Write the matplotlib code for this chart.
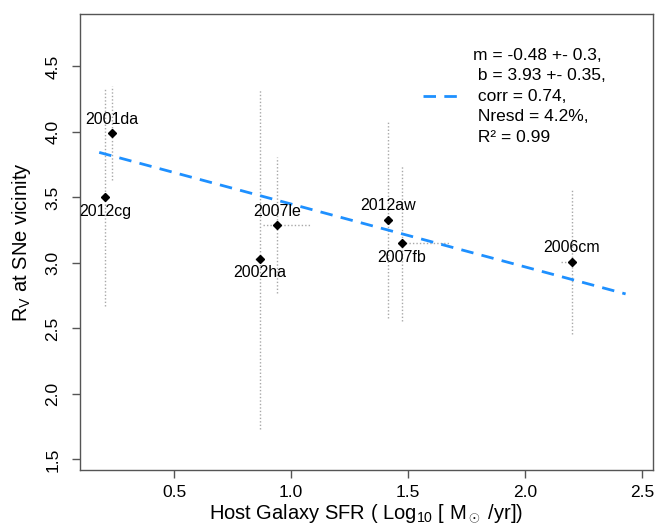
import numpy as np
import matplotlib
matplotlib.use("Agg")
import matplotlib.pyplot as plt

plt.rcParams['font.family'] = ['Liberation Sans', 'DejaVu Sans']
plt.rcParams['mathtext.fontset'] = 'custom'
plt.rcParams['mathtext.rm'] = 'Liberation Sans'
plt.rcParams['mathtext.it'] = 'Liberation Sans:italic'

# supernovae: host SFR (log10 Msun/yr) vs R_V
names = ['2012cg', '2001da', '2002ha', '2007le', '2012aw', '2007fb', '2006cm']
sfr = [0.205, 0.235, 0.868, 0.94, 1.415, 1.474, 2.20]
rv = [3.50, 3.99, 3.03, 3.29, 3.33, 3.15, 3.01]
rv_err = [0.83, 0.36, 1.30, 0.52, 0.75, 0.59, 0.55]
sfr_err_lo = [0.0, 0.0, 0.02, 0.06, 0.0, 0.0, 0.045]
sfr_err_hi = [0.0, 0.0, 0.0, 0.14, 0.0, 0.20, 0.02]
label_above = [False, True, False, True, True, False, True]

# linear fit
m, b = -0.48, 3.93
fit_range = [0.18, 2.43]
fit_text = "m = -0.48 +- 0.3,\n b = 3.93 +- 0.35,\n corr = 0.74,\n Nresd = 4.2%,\n R\u00b2 = 0.99"

fig = plt.figure(figsize=(6.57, 5.26), dpi=100)
ax = fig.add_axes([0.1218, 0.1065, 0.8721, 0.8669])

ax.errorbar(sfr, rv, yerr=rv_err, xerr=[sfr_err_lo, sfr_err_hi], fmt='none',
            ecolor='#a8a8a8', elinewidth=1, linestyle=':', capsize=0)
for line in ax.containers[0].lines[2]:
    line.set_linestyle((0, (1, 1.5)))
ax.plot(sfr, rv, 'D', color='black', markersize=4.5, zorder=5)

xf = np.array(fit_range)
ax.plot(xf, b + m * xf, color='#1E90FF', lw=2, dashes=(4.5, 3))

for n, x, y, up in zip(names, sfr, rv, label_above):
    ax.annotate(n, (x, y), xytext=(0, 10 if up else -10), textcoords='offset points',
                ha='center', va='center', fontsize=11.5)

# legend
ax.plot([0.599, 0.66], [0.82, 0.82], transform=ax.transAxes, color='#1E90FF',
        lw=2, dashes=(4.5, 3))
ax.text(0.686, 0.82, fit_text, transform=ax.transAxes, ha='left', va='center',
        fontsize=12.5, linespacing=1.46)

ax.set_xlim(0.098, 2.547)
ax.set_ylim(1.42, 4.90)
ax.set_xticks([0.5, 1.0, 1.5, 2.0, 2.5])
ax.set_yticks([1.5, 2.0, 2.5, 3.0, 3.5, 4.0, 4.5])
ax.set_xticklabels(['0.5', '1.0', '1.5', '2.0', '2.5'])
ax.set_yticklabels(['1.5', '2.0', '2.5', '3.0', '3.5', '4.0', '4.5'], rotation=90, va='center')
ax.tick_params(direction='out', length=6, width=1, color='#555555', labelsize=12.5)
ax.tick_params(axis='y', pad=8)
ax.tick_params(axis='x', pad=5)
for s in ax.spines.values():
    s.set_color('#555555')
    s.set_linewidth(1)

ax.set_xlabel(r'Host Galaxy SFR ( Log$_{10}$ [ M$_\odot$ /yr])', fontsize=14.5, labelpad=2)
ax.set_ylabel(r'R$_\mathrm{V}$ at SNe vicinity', fontsize=14.5, labelpad=9)

fig.savefig('out.png', dpi=100)
